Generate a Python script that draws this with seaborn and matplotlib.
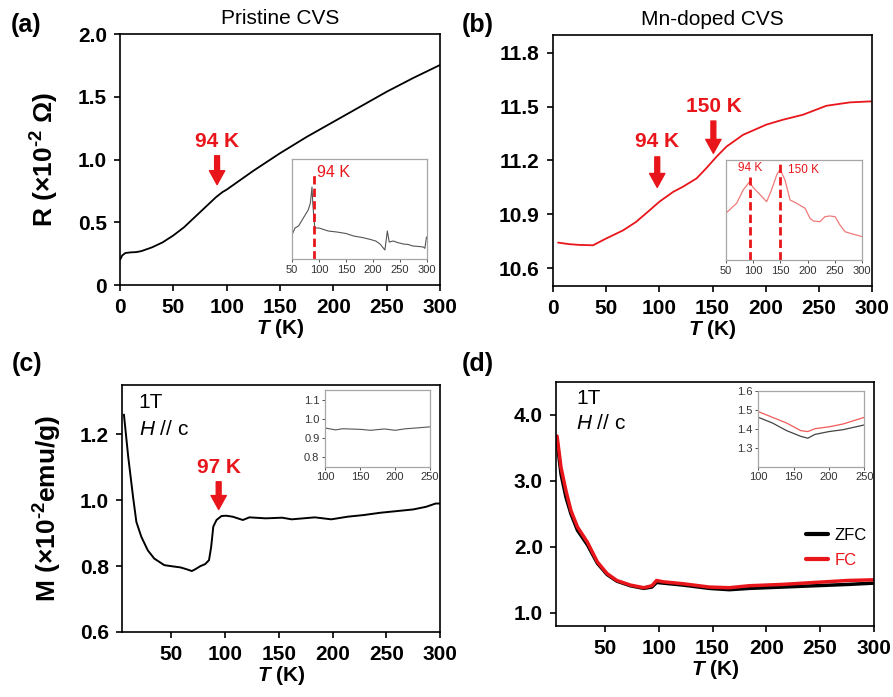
import numpy as np
import pandas as pd
import matplotlib
matplotlib.use("Agg")
import matplotlib.pyplot as plt
import seaborn as sns

# ---------------- data ----------------
# (a) pristine CVS, R(T)
t_a = [0, 2, 5, 10, 15, 20, 25, 30, 40, 50, 60, 70, 80, 85, 90, 93, 96, 100, 110,
       125, 150, 175, 200, 225, 250, 275, 300]
r_a = [0.20, 0.235, 0.255, 0.26, 0.262, 0.27, 0.285, 0.30, 0.34, 0.395, 0.46, 0.54,
       0.62, 0.66, 0.70, 0.72, 0.74, 0.76, 0.82, 0.91, 1.05, 1.18, 1.30, 1.42, 1.54,
       1.65, 1.753]
# inset (a): derivative, arb. units
t_a_in = [50, 55.5, 62, 71, 80, 84, 87, 88.5, 92, 93, 100, 117, 133, 150, 164, 180,
          194, 205, 213, 222, 226.5, 230, 237.6, 245, 256, 265, 274, 285, 293, 296, 299]
d_a_in = [0.24, 0.31, 0.33, 0.41, 0.49, 0.56, 0.72, 0.55, 0.32, 0.31, 0.31, 0.28,
          0.27, 0.255, 0.23, 0.215, 0.197, 0.18, 0.15, 0.09, 0.28, 0.17, 0.18, 0.165,
          0.15, 0.145, 0.13, 0.125, 0.12, 0.107, 0.22]
a_marks = [90]
a_mark_top = [0.87]

# (b) Mn-doped CVS, R(T)
t_b = [4.7, 15.7, 25, 37.6, 50, 65.8, 78, 91, 100, 113, 122, 135, 144, 153.6, 163,
       178.7, 200.6, 216, 235, 257, 279, 300]
r_b = [10.742, 10.733, 10.729, 10.727, 10.765, 10.81, 10.857, 10.923, 10.97, 11.025,
       11.053, 11.10, 11.156, 11.22, 11.277, 11.343, 11.40, 11.427, 11.455, 11.505,
       11.524, 11.53]
# inset (b): derivative, arb. units
t_b_in = [50, 70, 82, 93.4, 101, 110, 125, 134, 143.5, 149.6, 158.7, 168, 180, 195.5,
          204.6, 210.8, 223, 232, 241, 250.5, 259.5, 268.8, 278, 296, 300]
d_b_in = [0.467, 0.567, 0.70, 0.78, 0.72, 0.67, 0.583, 0.70, 0.85, 0.907, 0.80, 0.60,
          0.567, 0.517, 0.417, 0.39, 0.383, 0.433, 0.44, 0.433, 0.35, 0.283, 0.267,
          0.24, 0.233]
b_marks = [94, 150]
b_mark_top = [0.83, 0.97]

# (c) pristine CVS, M(T) at 1T
t_c = [5.8, 9.8, 14.3, 17.4, 22, 28, 34, 43.3, 49.4, 58.5, 64.6, 69, 72, 77, 81.4, 85,
       87, 89, 92, 96.6, 101, 107, 116.5, 122.6, 137.8, 153, 162, 183.5, 198.8, 214,
       229, 244.5, 259.8, 275, 287, 296, 300]
m_c = [1.26, 1.132, 1.01, 0.934, 0.889, 0.848, 0.823, 0.803, 0.80, 0.796, 0.79, 0.785,
       0.79, 0.80, 0.806, 0.818, 0.858, 0.92, 0.94, 0.952, 0.953, 0.95, 0.94, 0.948,
       0.945, 0.947, 0.942, 0.948, 0.942, 0.95, 0.955, 0.962, 0.967, 0.972, 0.98,
       0.99, 0.99]
t_c_in = [100, 115, 125, 150, 165, 185, 200, 215, 230, 250]
m_c_in = [0.952, 0.942, 0.948, 0.945, 0.94, 0.947, 0.94, 0.948, 0.952, 0.958]

# (d) Mn-doped CVS, M(T) at 1T, ZFC and FC
t_d = [5.5, 9.2, 13.8, 18.4, 24.5, 33.7, 43, 52, 61, 73.6, 86, 93.6, 98, 104, 122.7,
       147, 165.6, 184, 214.7, 245, 276, 300]
m_d_fc = [3.68, 3.20, 2.85, 2.55, 2.30, 2.07, 1.77, 1.594, 1.49, 1.42, 1.38, 1.41,
          1.49, 1.47, 1.44, 1.39, 1.38, 1.41, 1.43, 1.46, 1.49, 1.50]
m_d_zfc = [3.60, 3.10, 2.75, 2.50, 2.25, 2.03, 1.75, 1.58, 1.48, 1.41, 1.37, 1.39,
           1.46, 1.45, 1.42, 1.37, 1.35, 1.37, 1.39, 1.41, 1.43, 1.45]
t_d_in = [100, 120, 140, 160, 170, 180, 200, 220, 250]
m_d_in_fc = [1.49, 1.46, 1.43, 1.39, 1.385, 1.40, 1.41, 1.425, 1.46]
m_d_in_zfc = [1.46, 1.43, 1.39, 1.36, 1.35, 1.37, 1.385, 1.395, 1.42]

RED = "#e8161b"

sns.set_style("ticks")
plt.rcParams["font.family"] = ["Liberation Sans", "DejaVu Sans"]
plt.rcParams["mathtext.fontset"] = "custom"
plt.rcParams["mathtext.rm"] = "Liberation Sans"
plt.rcParams["mathtext.bf"] = "Liberation Sans:bold"
plt.rcParams["mathtext.it"] = "Liberation Sans:italic"
plt.rcParams["mathtext.bfit"] = "Liberation Sans:italic:bold"
for key in ["text.color", "axes.labelcolor", "xtick.color", "ytick.color", "axes.edgecolor"]:
    plt.rcParams[key] = "black"

fig = plt.figure(figsize=(8.93, 6.97), dpi=100)
ax_a = fig.add_axes([0.1344, 0.5911, 0.3583, 0.3601])
ax_b = fig.add_axes([0.6193, 0.5897, 0.3572, 0.3601])
ax_c = fig.add_axes([0.1366, 0.0933, 0.3561, 0.3544])
ax_d = fig.add_axes([0.6226, 0.1019, 0.3561, 0.3501])


def style_main(ax, xlim, ylim, xticks, yticks, ylabels):
    ax.set_xlim(*xlim)
    ax.set_ylim(*ylim)
    ax.set_xticks(xticks)
    ax.set_xticklabels([str(v) for v in xticks], fontsize=15, fontweight="bold")
    ax.set_yticks(yticks)
    ax.set_yticklabels(ylabels, fontsize=15, fontweight="bold")
    ax.tick_params(direction="out", length=4, width=1.2, pad=5.5)
    for s in ax.spines.values():
        s.set_linewidth(1.2)
        s.set_color("black")
    ax.set_xlabel(r"$\mathbfit{T}$ (K)", fontsize=15, fontweight="bold", labelpad=0)
    ax.set_ylabel("")


def style_inset(ax, xlim, ylim, xticks, yticks=None):
    ax.set_xlim(*xlim)
    ax.set_ylim(*ylim)
    ax.set_xticks(xticks)
    ax.set_xticklabels([str(v) for v in xticks], fontsize=8)
    if yticks is None:
        ax.set_yticks([])
    else:
        ax.set_yticks(yticks)
        ax.set_yticklabels([f"{v:.1f}" for v in yticks], fontsize=8)
    ax.tick_params(direction="out", length=2.5, width=0.6, pad=1.5, colors="#333333")
    for s in ax.spines.values():
        s.set_linewidth(0.9)
        s.set_color("#a6a6a6")
    ax.set_xlabel("")
    ax.set_ylabel("")


def red_arrow(ax, x, y_text, y_tail, y_tip, label):
    ax.text(x, y_text, label, color=RED, fontsize=15, fontweight="bold",
            ha="center", va="center")
    ax.annotate("", xy=(x, y_tip), xytext=(x, y_tail),
                arrowprops=dict(facecolor=RED, edgecolor=RED, width=3.5,
                                headwidth=11, headlength=10, shrink=0))


# (a)
sns.lineplot(x=t_a, y=r_a, ax=ax_a, color="black", lw=1.3)
style_main(ax_a, (0, 300), (0, 2.0), [0, 50, 100, 150, 200, 250, 300],
           [0, 0.5, 1.0, 1.5, 2.0], ["0", "0.5", "1.0", "1.5", "2.0"])
ax_a.set_ylabel("R (×10$^{\\mathbf{\u20102}}$ Ω)", fontsize=19, fontweight="bold", labelpad=12)
ax_a.set_title("Pristine CVS", fontsize=15, pad=7)
red_arrow(ax_a, 91, 1.14, 1.03, 0.80, "94 K")

in_a = fig.add_axes([0.327, 0.6284, 0.1512, 0.1435])
sns.lineplot(x=t_a_in, y=d_a_in, ax=in_a, color="#555555", lw=0.8)
in_a.vlines(a_marks, 0, a_mark_top, colors=RED, linestyles=(0, (3, 1.5)), lw=2)
style_inset(in_a, (50, 300), (0, 1), [50, 100, 150, 200, 250, 300])
in_a.text(97, 0.86, "94 K", color=RED, fontsize=11.5, va="center")

# (b)
sns.lineplot(x=t_b, y=r_b, ax=ax_b, color=RED, lw=1.3)
style_main(ax_b, (0, 300), (10.5, 11.9), [0, 50, 100, 150, 200, 250, 300],
           [10.6, 10.9, 11.2, 11.5, 11.8], ["10.6", "10.9", "11.2", "11.5", "11.8"])
ax_b.set_title("Mn-doped CVS", fontsize=15, pad=7)
red_arrow(ax_b, 98, 11.305, 11.22, 11.05, "94 K")
red_arrow(ax_b, 150.8, 11.50, 11.42, 11.24, "150 K")

in_b = fig.add_axes([0.8127, 0.627, 0.1526, 0.1435])
sns.lineplot(x=t_b_in, y=d_b_in, ax=in_b, color="#f07a7a", lw=0.9)
in_b.vlines(b_marks, 0, b_mark_top, colors=RED, linestyles=(0, (3, 1.5)), lw=2)
style_inset(in_b, (50, 300), (0, 1), [50, 100, 150, 200, 250, 300])
in_b.text(94, 0.92, "94 K", color=RED, fontsize=8.5, ha="center", va="center")
in_b.text(164, 0.90, "150 K", color=RED, fontsize=8.5, ha="left", va="center")

# (c)
sns.lineplot(x=t_c, y=m_c, ax=ax_c, color="black", lw=1.4)
style_main(ax_c, (4, 300), (0.6, 1.35), [50, 100, 150, 200, 250, 300],
           [0.6, 0.8, 1.0, 1.2], ["0.6", "0.8", "1.0", "1.2"])
ax_c.set_ylabel("M (×10$^{\\mathbf{\u20102}}$emu/g)", fontsize=19, fontweight="bold", labelpad=11)
ax_c.text(0.053, 0.93, "1T", transform=ax_c.transAxes, fontsize=15, va="center")
ax_c.text(0.053, 0.82, r"$H$ // c", transform=ax_c.transAxes, fontsize=15, va="center")
red_arrow(ax_c, 94, 1.10, 1.056, 0.972, "97 K")

in_c = fig.add_axes([0.364, 0.3304, 0.1176, 0.110])
sns.lineplot(x=t_c_in, y=m_c_in, ax=in_c, color="#555555", lw=0.8)
style_inset(in_c, (100, 250), (0.75, 1.15), [100, 150, 200, 250], [0.8, 0.9, 1.0, 1.1])

# (d)
sns.lineplot(x=t_d, y=m_d_zfc, ax=ax_d, color="black", lw=2.5, label="ZFC")
sns.lineplot(x=t_d, y=m_d_fc, ax=ax_d, color=RED, lw=2.5, label="FC")
style_main(ax_d, (4.5, 300), (0.8, 4.5), [50, 100, 150, 200, 250, 300],
           [1.0, 2.0, 3.0, 4.0], ["1.0", "2.0", "3.0", "4.0"])
ax_d.text(0.063, 0.934, "1T", transform=ax_d.transAxes, fontsize=15, va="center")
ax_d.text(0.063, 0.83, r"$H$ // c", transform=ax_d.transAxes, fontsize=15, va="center")
leg = ax_d.legend(loc="center left", bbox_to_anchor=(0.74, 0.32), frameon=False,
                  fontsize=12, handlelength=1.3, handletextpad=0.4,
                  labelspacing=0.6, labelcolor="linecolor")
for h in leg.get_lines():
    h.set_linewidth(3)

in_d = fig.add_axes([0.8492, 0.3304, 0.1187, 0.109])
sns.lineplot(x=t_d_in, y=m_d_in_zfc, ax=in_d, color="#444444", lw=0.9)
sns.lineplot(x=t_d_in, y=m_d_in_fc, ax=in_d, color="#f05a5a", lw=0.9)
style_inset(in_d, (100, 250), (1.2, 1.6), [100, 150, 200, 250], [1.3, 1.4, 1.5, 1.6])

# panel letters
for lab, x, y in [("(a)", 0.012, 0.964), ("(b)", 0.517, 0.964),
                  ("(c)", 0.013, 0.478), ("(d)", 0.517, 0.478)]:
    fig.text(x, y, lab, fontsize=18, fontweight="bold", va="center")

fig.savefig("out.png", dpi=100)
